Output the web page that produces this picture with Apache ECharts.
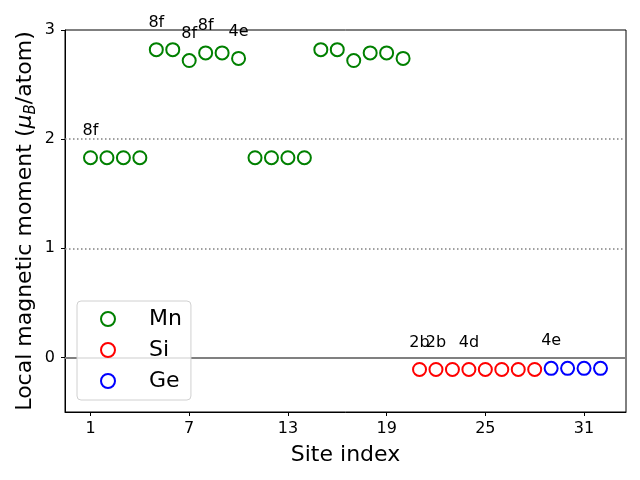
<!DOCTYPE html>
<html><head><meta charset="utf-8">
<script src="https://cdn.jsdelivr.net/npm/echarts@6/dist/echarts.min.js"></script>
<style>html,body{margin:0;padding:0;background:#fff}#c{width:640px;height:480px}</style>
</head><body><div id="c"></div>
<script>
const mnSites = [1,2,3,4,5,6,7,8,9,10,11,12,13,14,15,16,17,18,19,20];
const mnValues = [1.83,1.83,1.83,1.83,2.82,2.82,2.72,2.79,2.79,2.74,1.83,1.83,1.83,1.83,2.82,2.82,2.72,2.79,2.79,2.74];
const mnLabels = ['8f','','','','8f','','8f','8f','','4e','','','','','','','','','',''];
const siSites = [21,22,23,24,25,26,27,28];
const siValues = [-0.11,-0.11,-0.11,-0.11,-0.11,-0.11,-0.11,-0.11];
const siLabels = ['2b','2b','','4d','','','',''];
const geSites = [29,30,31,32];
const geValues = [-0.10,-0.10,-0.10,-0.10];
const geLabels = ['4e','','',''];
const xTicks = [1,7,13,19,25,31];
const yTicks = [0,1,2,3];

const FONT = 'DejaVu Sans';
function mk(s, v, l){ return s.map((x,i)=>[x, v[i], l[i]]); }
function series(name, color, s, v, l, extra){
  return Object.assign({
    name, type:'scatter', symbol:'emptyCircle', symbolSize:13,
    itemStyle:{color:color, borderColor:color, borderWidth:1.2, opacity:1},
    data: mk(s,v,l),
    label:{show:true, position:'inside', offset:[0,-27], color:'#000', opacity:1, fontFamily:FONT, fontSize:16,
      formatter: p => p.data[2] || ''},
    emphasis:{disabled:true}, z:3
  }, extra||{});
}
const chart = echarts.init(document.getElementById('c'), null, {renderer:'canvas'});
chart.setOption({
  animation:false,
  grid:{left:65, right:14, top:30, bottom:68, show:true, borderColor:'#000', borderWidth:1, backgroundColor:'transparent',
    containLabel:false, outerBoundsMode:'none'},
  xAxis:{type:'value', min:-0.55, max:33.55,
    name:'Site index', nameLocation:'middle', nameGap:32, nameMoveOverlap:false,
    nameTextStyle:{fontFamily:FONT, fontSize:22, color:'#000'},
    axisLine:{show:true, onZero:false, lineStyle:{color:'#000'}},
    axisTick:{show:true, inside:false, length:4, customValues:xTicks, lineStyle:{color:'#000'}},
    axisLabel:{customValues:xTicks, fontFamily:FONT, fontSize:16, color:'#000', margin:9},
    splitLine:{show:false}},
  yAxis:{type:'value', min:-0.5, max:3,
    name:'Local magnetic moment ({i|μ}{s|B}/atom)', nameLocation:'middle', nameGap:26, nameRotate:90, nameMoveOverlap:false,
    nameTextStyle:{fontFamily:FONT, fontSize:22, color:'#000',
      rich:{i:{fontFamily:FONT, fontSize:22, fontStyle:'italic', color:'#000'},
            s:{fontFamily:FONT, fontSize:15, fontStyle:'italic', color:'#000', verticalAlign:'bottom', padding:[12,0,0,0]}}},
    axisLine:{show:true, onZero:false, lineStyle:{color:'#000'}},
    axisTick:{show:true, inside:false, length:4, customValues:yTicks, lineStyle:{color:'#000'}},
    axisLabel:{customValues:yTicks, fontFamily:FONT, fontSize:16, color:'#000', margin:10},
    splitLine:{show:false}},
  legend:{show:true, orient:'vertical', left:77, top:301, itemWidth:14, itemHeight:14, itemGap:9,
    padding:[7,9,8,23], backgroundColor:'rgba(255,255,255,0.8)', borderColor:'#d0d0d0', borderWidth:1, borderRadius:4,
    textStyle:{fontFamily:FONT, fontSize:22, color:'#000', padding:[0,0,0,29]},
    itemStyle:{borderWidth:1.2, opacity:1},
    data:['Mn','Si','Ge']},
  series:[
    series('Mn','#008000', mnSites, mnValues, mnLabels, {
      markLine:{silent:true, symbol:['none','none'], label:{show:false}, z:1,
        data:[
          {yAxis:0, lineStyle:{color:'#808080', type:'solid', width:2, opacity:1}},
          {yAxis:1, lineStyle:{color:'#808080', type:[1.5,2.5], width:1.5, opacity:1}},
          {yAxis:2, lineStyle:{color:'#808080', type:[1.5,2.5], width:1.5, opacity:1}}
        ]}
    }),
    series('Si','#ff0000', siSites, siValues, siLabels),
    series('Ge','#0000ff', geSites, geValues, geLabels)
  ]
});
</script></body></html>
